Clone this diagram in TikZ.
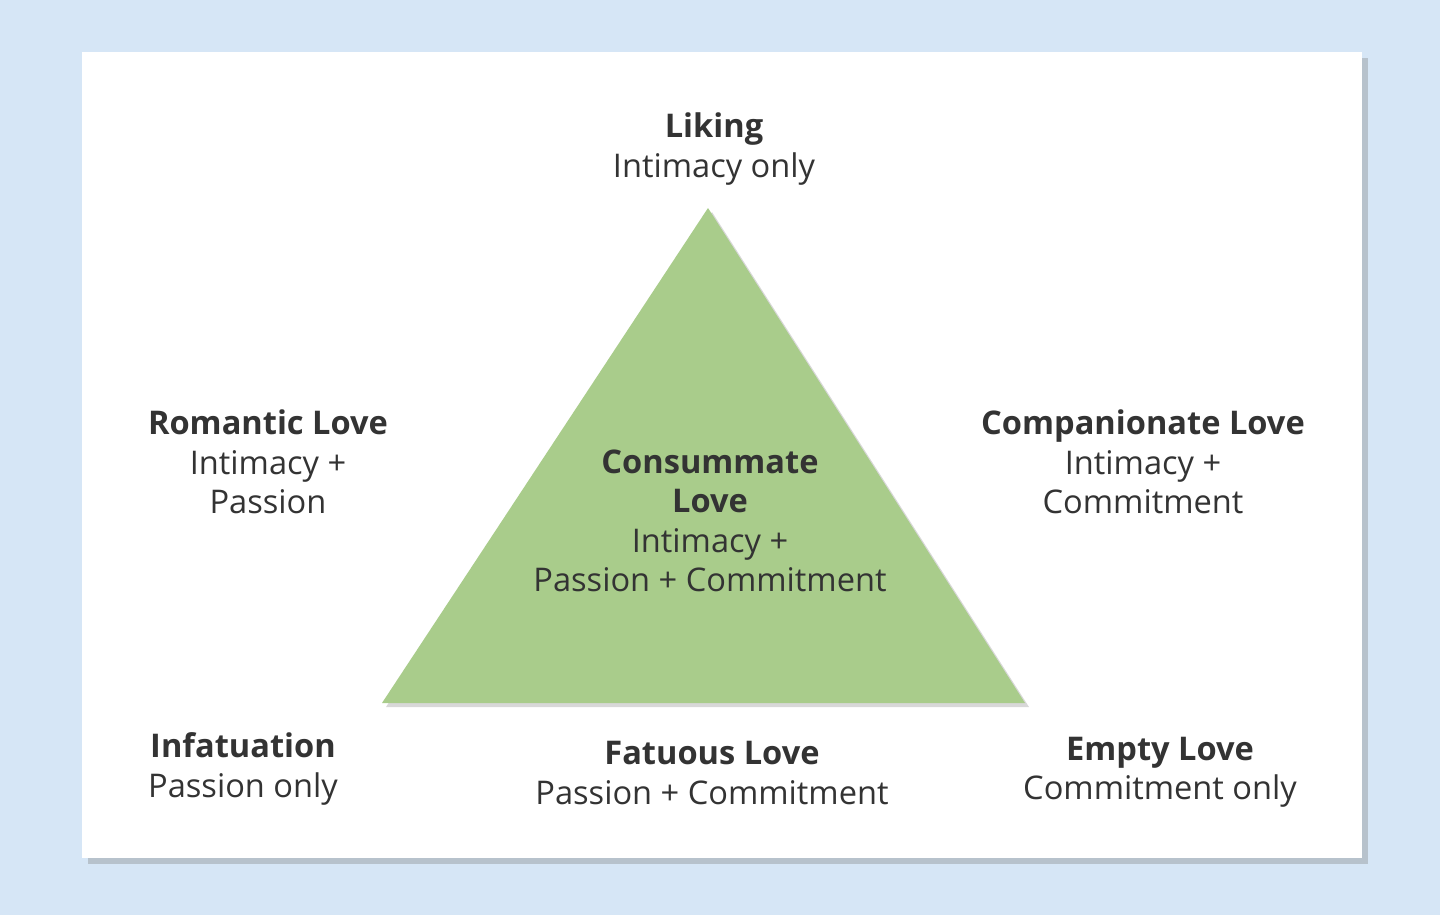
\documentclass[tikz,border=0pt]{standalone}
\usepackage{fontspec}
\setmainfont{Open Sans}
\usetikzlibrary{shadows}
\definecolor{bgblue}{HTML}{D6E6F6}
\definecolor{trigreen}{HTML}{A9CC8B}
\definecolor{txtgray}{HTML}{333333}
\tikzset{
  lovelabel/.style={align=center, text=txtgray, font=\fontsize{16.3}{19.7}\selectfont, inner sep=0pt}
}
\begin{document}
\begin{tikzpicture}[x=0.5pt,y=-0.5pt]
  \fill[bgblue] (0,0) rectangle (1440,915);
  \useasboundingbox (0,0) rectangle (1440,915);
  \fill[white, drop shadow={shadow xshift=3pt, shadow yshift=-3pt, opacity=0.35}] (82,52) rectangle (1362,858);
  % triangle
  \fill[trigreen, drop shadow={shadow xshift=2pt, shadow yshift=-2pt, opacity=0.3}] (708,208) -- (1025,703) -- (382,703) -- cycle;
  % labels
  \node[lovelabel] (liking) at (714,149) {\textbf{Liking}\\Intimacy only};
  \node[lovelabel] (romantic) at (268,462) {\textbf{Romantic Love}\\Intimacy +\\Passion};
  \node[lovelabel] (companion) at (1143,462) {\textbf{Companionate Love}\\Intimacy +\\Commitment};
  \node[lovelabel] (consummate) at (710,521) {\textbf{Consummate}\\\textbf{Love}\\Intimacy +\\Passion + Commitment};
  \node[lovelabel] (infatuation) at (243,769) {\textbf{Infatuation}\\Passion only};
  \node[lovelabel] (fatuous) at (712,773) {\textbf{Fatuous Love}\\Passion + Commitment};
  \node[lovelabel] (empty) at (1160,772) {\textbf{Empty Love}\\Commitment only};
\end{tikzpicture}
\end{document}
